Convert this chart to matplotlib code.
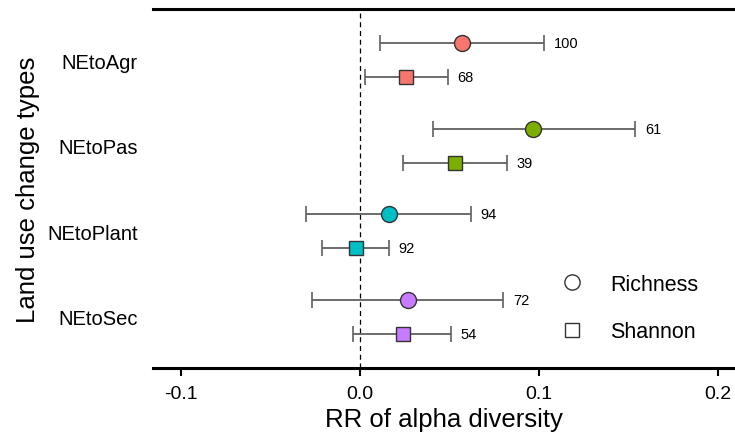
import numpy as np
import matplotlib
matplotlib.use("Agg")
import matplotlib.pyplot as plt
from matplotlib.lines import Line2D

plt.rcParams["font.family"] = ["Liberation Sans", "DejaVu Sans"]

# Response ratios with 95% CI and sample sizes per land-use change type
groups = ["NEtoAgr", "NEtoPas", "NEtoPlant", "NEtoSec"]
colors = ["#F8766D", "#7CAE00", "#00BFC4", "#C77CFF"]

rich_mean = [0.057, 0.097, 0.016, 0.027]
rich_lo = [0.011, 0.041, -0.030, -0.027]
rich_hi = [0.103, 0.154, 0.062, 0.080]
rich_n = [100, 61, 94, 72]

shan_mean = [0.026, 0.053, -0.002, 0.024]
shan_lo = [0.003, 0.024, -0.021, -0.004]
shan_hi = [0.049, 0.082, 0.016, 0.051]
shan_n = [68, 39, 92, 54]

fig = plt.figure(figsize=(7.35, 4.39), dpi=100)
ax = fig.add_axes([153 / 735, 1 - 369 / 439, 1 - 153 / 735, 359 / 439])

ypos = np.arange(len(groups), 0, -1).astype(float)
off = 0.2

ax.axvline(0, color="black", lw=0.9, ls=(0, (4, 3)), zorder=1)


def draw_series(mean, lo, hi, n, dy, marker, ms):
    for i in range(len(groups)):
        y = ypos[i] + dy
        err = [[mean[i] - lo[i]], [hi[i] - mean[i]]]
        ax.errorbar(mean[i], y, xerr=err, fmt="none", ecolor="#606060",
                    elinewidth=1.3, capsize=5.5, capthick=1.2, zorder=2)
        ax.plot(mean[i], y, marker=marker, ms=ms, mfc=colors[i], mec="#333333",
                mew=1.0, ls="none", zorder=3)
        ax.annotate(str(n[i]), xy=(hi[i], y), xytext=(7, 0), textcoords="offset points",
                    ha="left", va="center", fontsize=10.5)


draw_series(rich_mean, rich_lo, rich_hi, rich_n, off, "o", 11.5)
draw_series(shan_mean, shan_lo, shan_hi, shan_n, -off, "s", 10)

ax.set_xlim((153 - 360) / 1788, (735 - 360) / 1788)
ax.set_ylim(0.4, 4.6)
ax.set_xticks([-0.1, 0.0, 0.1, 0.2])
ax.set_xticklabels(["-0.1", "0.0", "0.1", "0.2"])
ax.set_yticks(ypos)
ax.set_yticklabels(groups)

for s in ["left", "right"]:
    ax.spines[s].set_visible(False)
for s in ["top", "bottom"]:
    ax.spines[s].set_linewidth(2.2)

ax.tick_params(axis="x", direction="out", length=6, width=1.5, labelsize=14, pad=6)
ax.tick_params(axis="y", length=0, labelsize=14.5, pad=11)

ax.set_xlabel("RR of alpha diversity", fontsize=18.5, labelpad=4)
ax.set_ylabel("Land use change types", fontsize=18.5, labelpad=5)

handles = [
    Line2D([], [], marker="o", ls="none", ms=11, mfc="white", mec="#333333", mew=1.0),
    Line2D([], [], marker="s", ls="none", ms=10, mfc="white", mec="#333333", mew=1.0),
]
ax.legend(handles, ["Richness", "Shannon"], loc="upper left",
          bbox_to_anchor=(561 / 735, 1 - 275 / 439), bbox_transform=fig.transFigure,
          frameon=False, fontsize=15.5, handlelength=1.0, handletextpad=1.28,
          labelspacing=1.23, borderpad=0, borderaxespad=0)

fig.savefig("out.png", dpi=100)
